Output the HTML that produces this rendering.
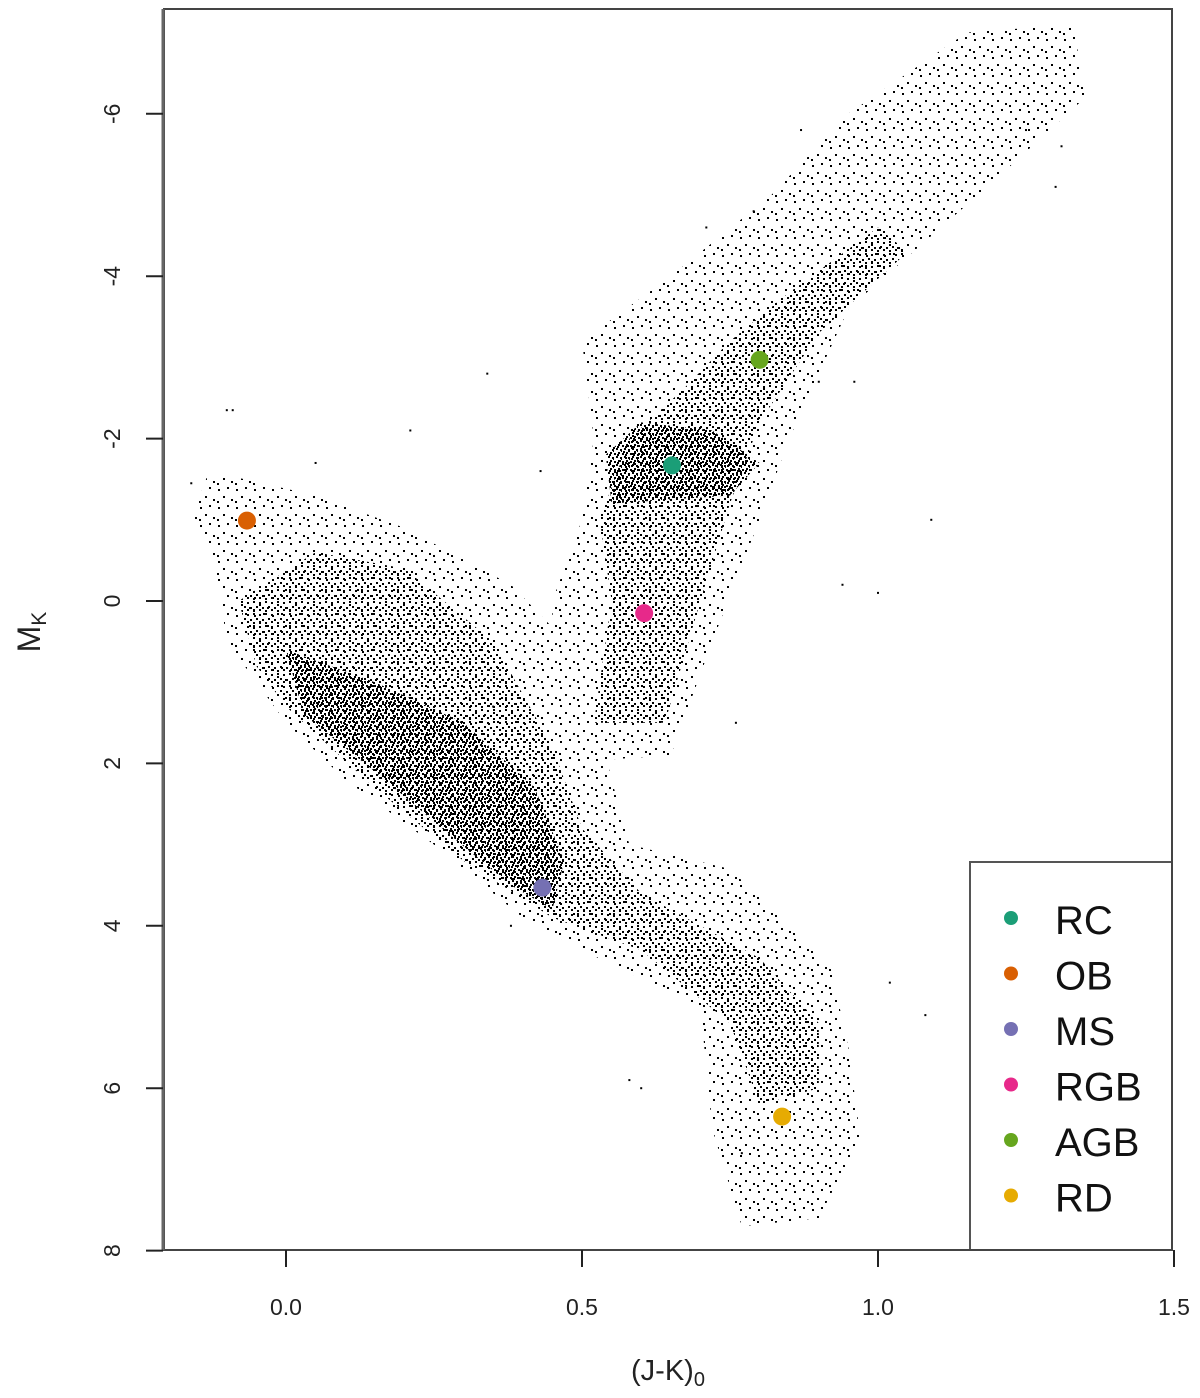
<!DOCTYPE html>
<html><head><meta charset="utf-8"><style>
html,body{margin:0;padding:0;background:#fff}
svg{display:block;font-family:"Liberation Sans",sans-serif}
</style></head><body>
<svg id="chart" width="1200" height="1398" viewBox="0 0 1200 1398" xmlns="http://www.w3.org/2000/svg">
<defs>
<pattern id="pSparse" width="18" height="18" patternUnits="userSpaceOnUse">
<rect x="2" y="3" width="2" height="2" fill="#000"/><rect x="11" y="1" width="2" height="2" fill="#000"/><rect x="7" y="10" width="2" height="2" fill="#000"/><rect x="15" y="13" width="2" height="2" fill="#000"/><rect x="1" y="15" width="2" height="2" fill="#000"/></pattern>
<pattern id="pMed" width="12" height="12" patternUnits="userSpaceOnUse">
<rect x="1" y="1" width="2" height="2" fill="#000"/><rect x="7" y="2" width="2" height="2" fill="#000"/><rect x="4" y="6" width="2" height="2" fill="#000"/><rect x="10" y="7" width="2" height="2" fill="#000"/><rect x="1" y="10" width="2" height="2" fill="#000"/><rect x="7" y="9" width="2" height="2" fill="#000"/></pattern>
<pattern id="pDense" width="8" height="8" patternUnits="userSpaceOnUse">
<rect x="0" y="0" width="2" height="2" fill="#000"/><rect x="4" y="1" width="2" height="2" fill="#000"/><rect x="2" y="4" width="2" height="2" fill="#000"/><rect x="6" y="5" width="2" height="2" fill="#000"/><rect x="1" y="6" width="2" height="2" fill="#000"/><rect x="5" y="3" width="1" height="1" fill="#000"/></pattern>
</defs>
<g id="clouds"></g>
<g id="outliers"></g>
<g id="markers"></g>
<g id="axes"></g>
</svg>
<script>
const xTicks=[0.0,0.5,1.0,1.5];
const xTickLabels=["0.0","0.5","1.0","1.5"];
const yTicks=[-6,-4,-2,0,2,4,6,8];
const yTickLabels=["-6","-4","-2","0","2","4","6","8"];
const groupNames=["RC","OB","MS","RGB","AGB","RD"];
const groupColors=["#1b9e77","#d95f02","#7570b3","#e7298a","#66a61e","#e6ab02"];
const groupX=[0.652,-0.066,0.433,0.605,0.80,0.838];
const groupY=[-1.67,-0.99,3.53,0.15,-2.97,6.35];
const cloudSparseMS=[[-0.13,-1.6],[0.05,-1.3],[0.2,-0.9],[0.38,-0.2],[0.5,0.7],[0.55,2.2],[0.58,3.0],[0.75,3.3],[0.92,4.5],[0.95,5.5],[0.97,6.6],[0.9,7.6],[0.77,7.7],[0.72,6.5],[0.7,5.0],[0.5,4.3],[0.4,3.9],[0.25,3.0],[0.1,2.2],[0.0,1.5],[-0.1,0.5],[-0.12,-0.5],[-0.16,-1.0]];
const cloudMedMS=[[-0.08,0.0],[0.05,-0.6],[0.2,-0.4],[0.35,0.5],[0.45,1.8],[0.5,2.8],[0.6,3.6],[0.8,4.4],[0.9,5.2],[0.9,6.0],[0.8,6.2],[0.75,5.2],[0.6,4.3],[0.45,3.9],[0.3,3.2],[0.15,2.3],[0.0,1.3],[-0.05,0.8]];
const cloudDenseMS=[[0.0,0.6],[0.15,1.0],[0.3,1.5],[0.42,2.3],[0.47,3.2],[0.45,3.8],[0.38,3.5],[0.28,2.9],[0.15,2.1],[0.03,1.4]];
const cloudSparseGiant=[[0.45,2.0],[0.65,1.9],[0.72,0.5],[0.8,-1.0],[0.85,-2.0],[0.95,-3.6],[1.2,-5.2],[1.35,-6.2],[1.33,-7.1],[1.15,-7.0],[0.95,-6.0],[0.82,-5.0],[0.65,-4.0],[0.5,-3.2],[0.52,-2.0],[0.5,-1.0],[0.45,0.0]];
const cloudMedGiant=[[0.52,1.5],[0.64,1.5],[0.7,0.0],[0.75,-1.2],[0.8,-2.2],[0.9,-3.3],[1.05,-4.3],[1.0,-4.6],[0.85,-3.8],[0.75,-3.2],[0.67,-2.6],[0.58,-2.0],[0.53,-1.0],[0.55,0.0]];
const cloudDenseClump=[[0.55,-1.2],[0.75,-1.3],[0.8,-1.7],[0.72,-2.1],[0.6,-2.2],[0.54,-1.8]];
const outX=[-0.16,-0.1,-0.09,0.05,0.21,0.34,0.43,0.35,0.38,0.6,0.94,1.0,1.09,0.96,1.02,1.08,0.58,0.71,0.76,0.79,0.87,0.9,1.25,1.3,1.31,0.77];
const outY=[-1.45,-2.35,-2.35,-1.7,-2.1,-2.8,-1.6,1.3,4.0,6.0,-0.2,-0.1,-1.0,-2.7,4.7,5.1,5.9,-4.6,1.5,-4.8,-5.8,-2.7,-5.8,-5.1,-5.6,6.8];

const X0=286,XS=592,Y0=601,YS=81.2;
const sx=v=>X0+v*XS, sy=v=>Y0+v*YS;
const NS="http://www.w3.org/2000/svg";
function mk(t,p,a){const e=document.createElementNS(NS,t);for(const k in a)e.setAttribute(k,a[k]);p.appendChild(e);return e;}
const clouds=document.getElementById('clouds');
function poly(pts,fill,name){
  const e=mk('polygon',clouds,{points:pts.map(p=>sx(p[0])+','+sy(p[1])).join(' '),fill:fill});
  
  
}
poly(cloudSparseMS,'url(#pSparse)','ms-cloud-sparse');
poly(cloudMedMS,'url(#pMed)','ms-cloud-medium');
poly(cloudDenseMS,'url(#pDense)','ms-cloud-dense');
poly(cloudSparseGiant,'url(#pSparse)','giant-cloud-sparse');
poly(cloudMedGiant,'url(#pMed)','giant-cloud-medium');
poly(cloudDenseClump,'url(#pDense)','red-clump-dense');
const og=document.getElementById('outliers');
for(let i=0;i<outX.length;i++){
  const r=mk('rect',og,{x:sx(outX[i])-1,y:sy(outY[i])-1,width:2,height:2,fill:'#000'});
  
  
}
const mg=document.getElementById('markers');
for(let i=0;i<groupNames.length;i++){
  const c=mk('circle',mg,{cx:sx(groupX[i]),cy:sy(groupY[i]),r:9,fill:groupColors[i]});
  
  
}
const ax=document.getElementById('axes');
// legend box
const lb=mk('rect',ax,{x:970,y:862,width:202,height:388,fill:'#fff',stroke:'#555','stroke-width':2});


for(let i=0;i<groupNames.length;i++){
  const yy=921+i*55.5;
  const c=mk('circle',ax,{cx:1011,cy:yy-3,r:7,fill:groupColors[i]});
  
  
  const t=mk('text',ax,{x:1055,y:yy+13,'font-size':40,fill:'#111'});
  t.textContent=groupNames[i];
  
  
}
// frame
const fr=mk('path',ax,{d:'M164,9 H1172 V1250 H164 Z',fill:'none',stroke:'#444','stroke-width':2});


const la=mk('line',ax,{x1:163,y1:9,x2:163,y2:1250,stroke:'#666','stroke-width':3});


for(let i=0;i<xTicks.length;i++){
  const x=sx(xTicks[i]);
  const l=mk('line',ax,{x1:x,y1:1250,x2:x,y2:1267,stroke:'#222','stroke-width':2});
  
  
  const t=mk('text',ax,{x:x,y:1315,'font-size':23,'text-anchor':'middle',fill:'#222'});
  t.textContent=xTickLabels[i];
  
  
}
for(let i=0;i<yTicks.length;i++){
  const y=sy(yTicks[i]);
  const l=mk('line',ax,{x1:146,y1:y,x2:163,y2:y,stroke:'#222','stroke-width':2});
  
  
  const t=mk('text',ax,{x:120,y:y,'font-size':23,'text-anchor':'middle',fill:'#222',transform:'rotate(-90 120 '+y+')'});
  t.textContent=yTickLabels[i];
  
  
}
const xt=mk('text',ax,{x:668,y:1380,'font-size':29,'text-anchor':'middle',fill:'#222'});
xt.innerHTML='(J-K)<tspan font-size="20" dy="6">0</tspan>';


const yt=mk('text',ax,{x:40,y:632,'font-size':32,'text-anchor':'middle',fill:'#222',transform:'rotate(-90 40 632)'});
yt.innerHTML='M<tspan font-size="21" dy="6">K</tspan>';


</script>
</body></html>
